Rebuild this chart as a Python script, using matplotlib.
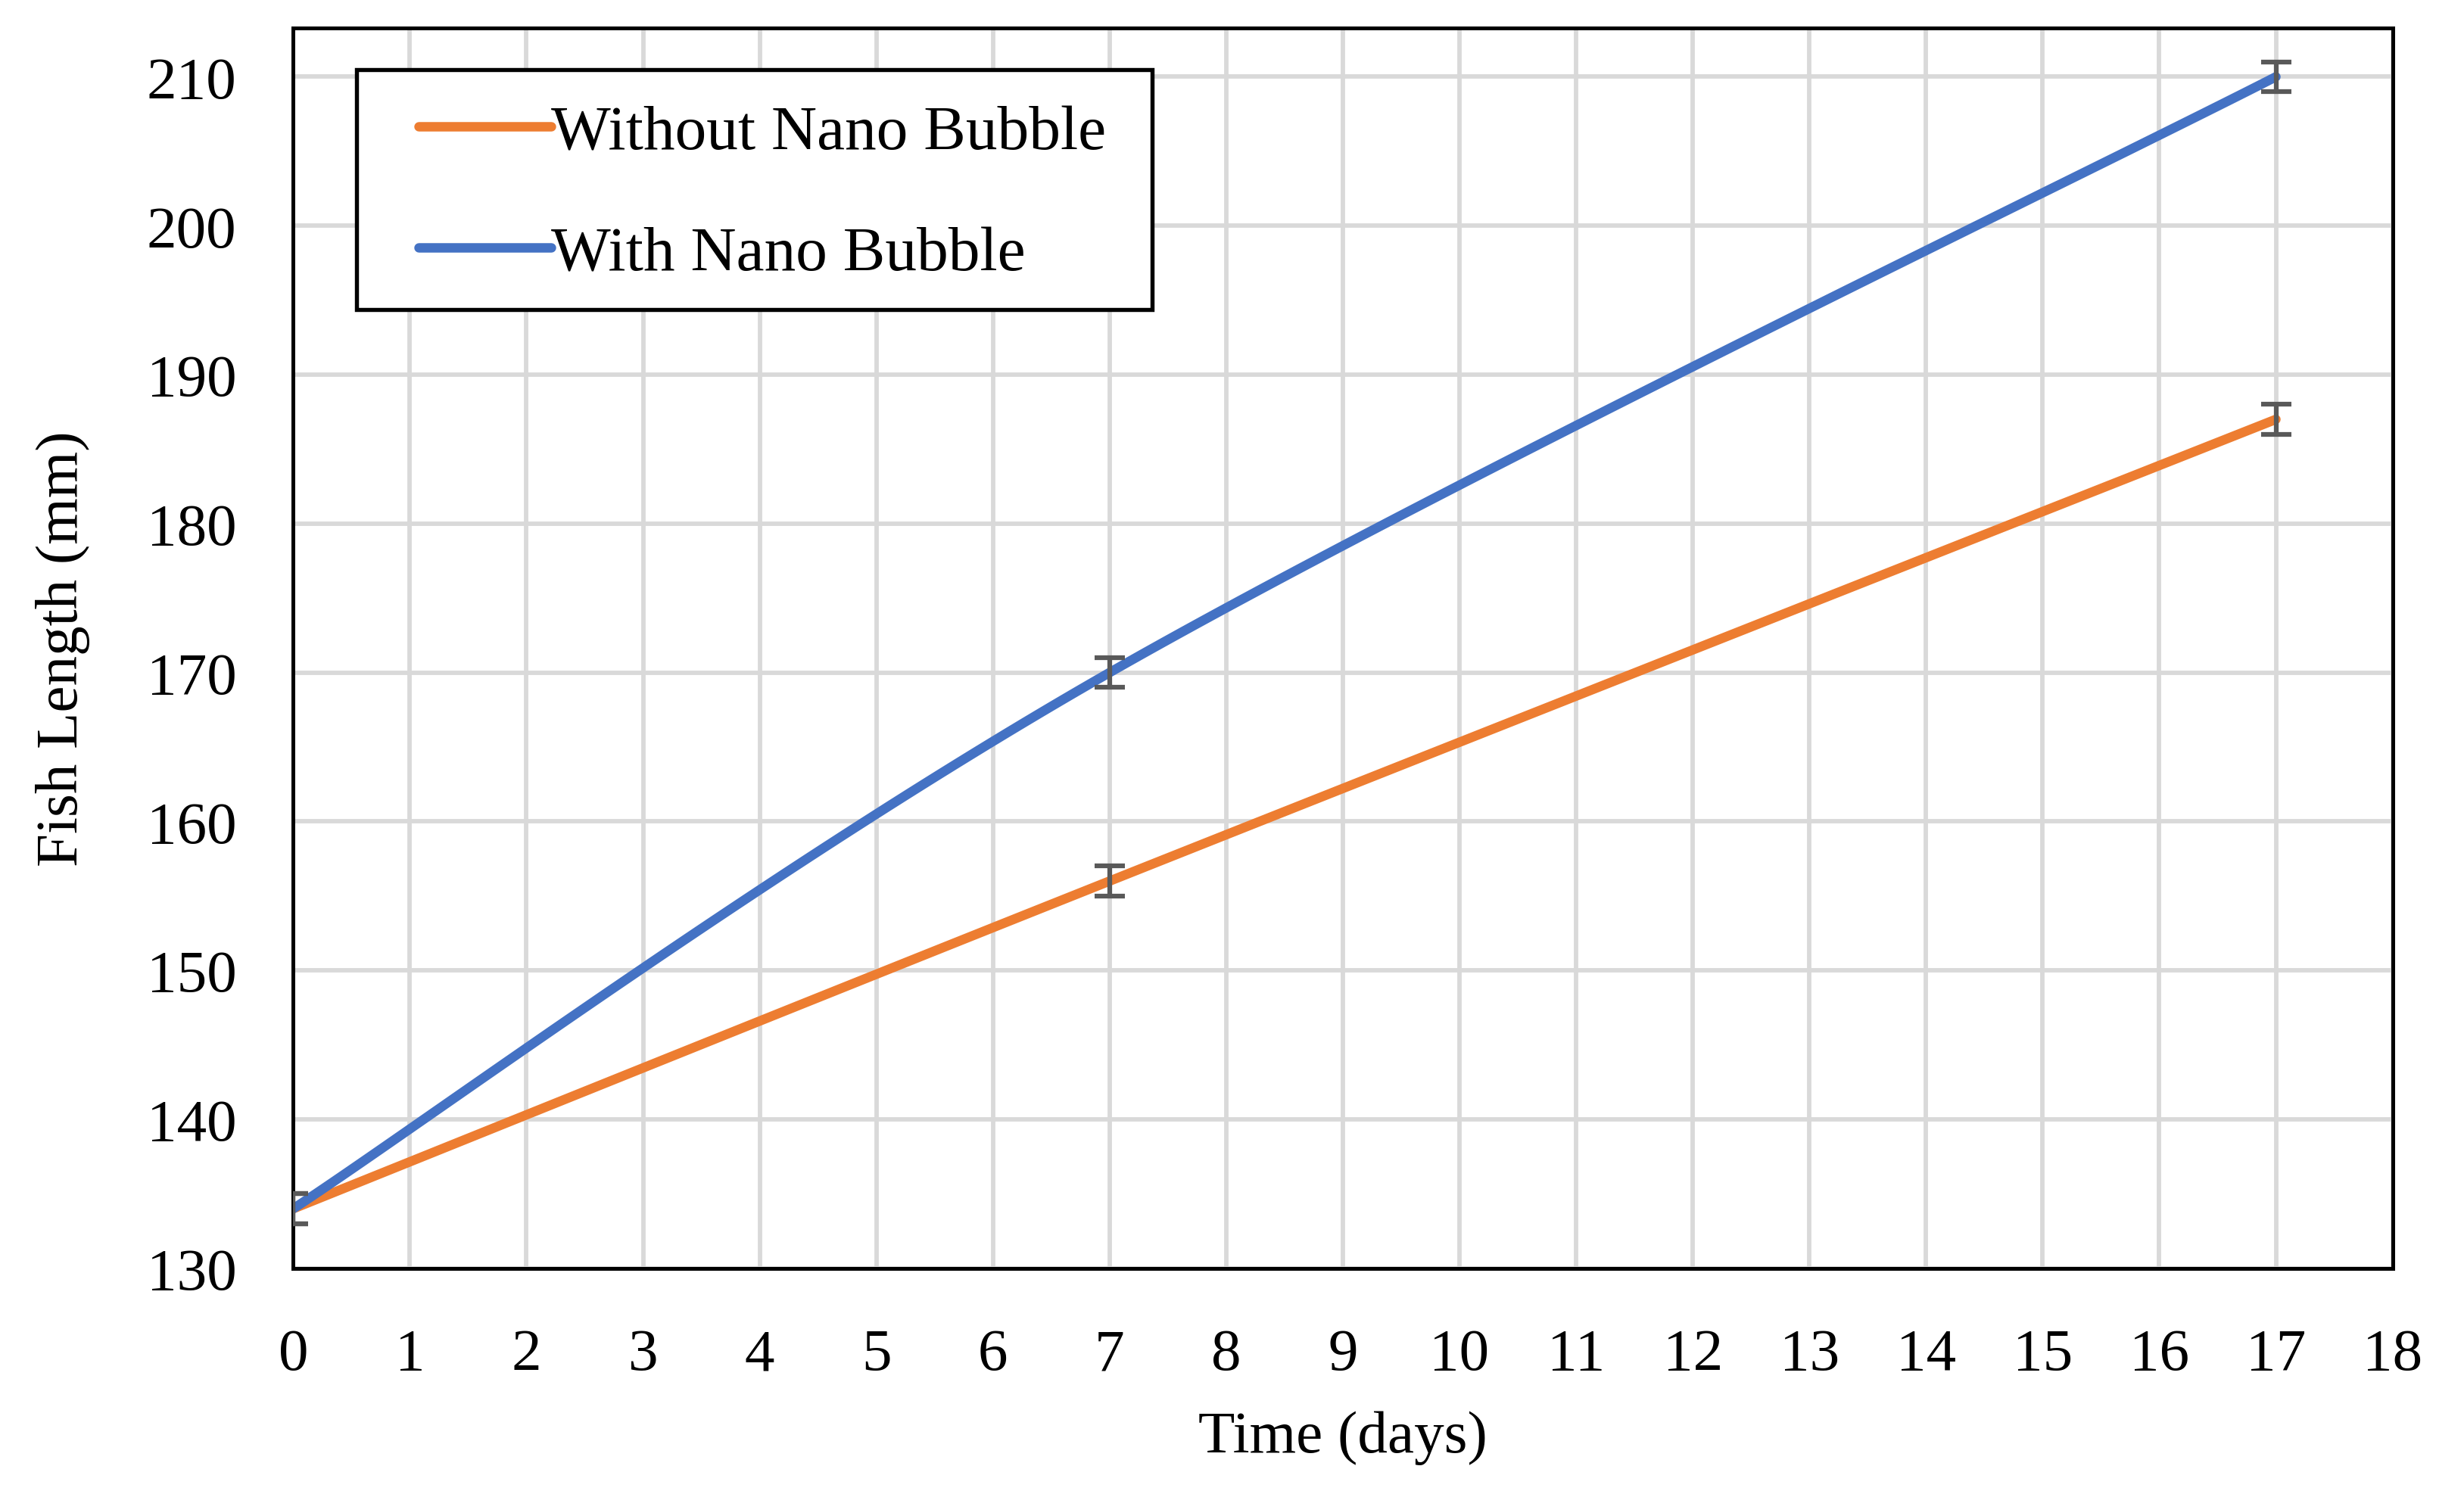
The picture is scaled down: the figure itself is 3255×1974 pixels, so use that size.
import numpy as np
import matplotlib.pyplot as plt
import matplotlib as mpl
from matplotlib.patches import Rectangle

days = [0, 7, 17]
without_nb = [134, 156, 187]
with_nb = [134, 170, 210]
err_without = [1, 1, 1]
err_with = [1, 1, 1]

C_WITHOUT = "#ed7d31"
C_WITH = "#4472c4"


def smooth(xs, ys, n=60):
    # Excel-style smoothed line: Catmull-Rom segments as cubic Beziers
    p = np.column_stack([xs, ys]).astype(float)
    pts = [p[0]]
    for i in range(len(p) - 1):
        p0 = p[i - 1] if i > 0 else p[i]
        p1, p2 = p[i], p[i + 1]
        p3 = p[i + 2] if i + 2 < len(p) else p[i + 1]
        c1 = p1 + (p2 - p0) / 6
        c2 = p2 - (p3 - p1) / 6
        t = np.linspace(0, 1, n)[1:, None]
        seg = ((1 - t) ** 3) * p1 + 3 * ((1 - t) ** 2) * t * c1 + 3 * (1 - t) * t ** 2 * c2 + t ** 3 * p2
        pts.extend(seg)
    pts = np.array(pts)
    return pts[:, 0], pts[:, 1]


mpl.rcParams["font.family"] = ["Liberation Serif", "DejaVu Serif"]
mpl.rcParams["font.size"] = 19

fig = plt.figure(figsize=(10.85, 6.5833), dpi=300)
ax = fig.add_axes([0.119, 0.151, 0.852, 0.830])

for ys, errs, col, lab in [(without_nb, err_without, C_WITHOUT, "Without Nano Bubble"),
                           (with_nb, err_with, C_WITH, "With Nano Bubble")]:
    sx, sy = smooth(days, ys)
    ax.plot(sx, sy, color=col, lw=3.0, label=lab, solid_capstyle="round", zorder=3)
    ax.errorbar(days, ys, yerr=errs, fmt="none", ecolor="#595959", elinewidth=1.5,
                capsize=4.8, capthick=1.5, zorder=4)

ax.set_xlim(0, 18)
ax.set_ylim(130, 213.3)
ax.set_xticks(range(0, 19))
ax.set_yticks(range(130, 211, 10))
ax.grid(True, color="#d9d9d9", lw=1.4)
ax.set_axisbelow(True)
for s in ax.spines.values():
    s.set_color("black")
    s.set_linewidth(1.2)
ax.tick_params(axis="x", length=0, pad=19, labelsize=19)
ax.tick_params(axis="y", length=0, pad=18, labelsize=19)
ax.set_xlabel("Time (days)", fontsize=19, labelpad=9)
ax.set_ylabel("Fish Length (mm)", fontsize=19, labelpad=18)

# legend box drawn separately so the inner padding matches the original
ax.add_patch(Rectangle((0.030, 0.773), 0.379, 0.193, transform=ax.transAxes,
                       facecolor="white", edgecolor="black", lw=1.3, zorder=5))
leg = ax.legend(loc="upper left", bbox_to_anchor=(0.0599, 0.938), frameon=False,
                fontsize=20, handlelength=2.1, handletextpad=0.0, labelspacing=1.0,
                borderpad=0, borderaxespad=0)
leg.set_zorder(6)

fig.savefig("out.png", dpi=300, facecolor="white")
